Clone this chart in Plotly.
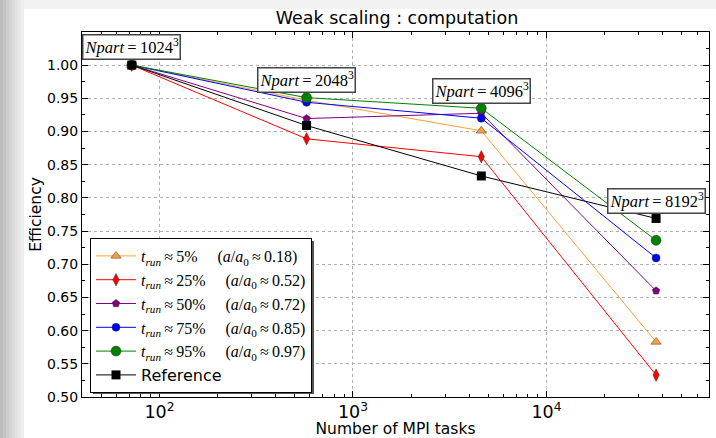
import math
import plotly.graph_objects as go

# MPI task counts for each weak-scaling step
tasks = [72, 576, 4608, 36864]
npart_labels = ["1024", "2048", "4096", "8192"]
npart_y = [1.027, 0.977, 0.961, 0.796]

eff_5 = [1.0, 0.947, 0.901, 0.583]
eff_25 = [1.0, 0.889, 0.862, 0.533]
eff_50 = [1.0, 0.9195, 0.9275, 0.660]
eff_75 = [1.0, 0.944, 0.920, 0.7095]
eff_95 = [1.0, 0.951, 0.935, 0.736]
eff_ref = [1.0, 0.909, 0.833, 0.769]

series = [
    ("5%", "0.18", eff_5, "#ffa033", "triangle-up", 9),
    ("25%", "0.52", eff_25, "#ff0000", "diamond-tall", 9),
    ("50%", "0.72", eff_50, "#800080", "pentagon", 8),
    ("75%", "0.85", eff_75, "#0000ff", "circle", 8),
    ("95%", "0.97", eff_95, "#007f00", "circle", 10),
]

SERIF = "Liberation Serif"
SANS = "DejaVu Sans"

fig = go.Figure()

for pct, ratio, vals, col, sym, sz in series:
    name = ("<i>t</i><sub><i>run</i></sub>\u2009\u2248\u2009" + pct +
            "&nbsp;&nbsp;&nbsp;&nbsp;&nbsp;(<i>a</i>/<i>a</i><sub>0</sub>\u2009\u2248\u2009" + ratio + ")")
    fig.add_trace(go.Scatter(
        x=tasks, y=vals, name=name, mode="lines+markers",
        line=dict(color=col, width=1),
        marker=dict(symbol=sym, size=sz, color=col, line=dict(color="#333333", width=0.5)),
    ))

fig.add_trace(go.Scatter(
    x=tasks, y=eff_ref, name="<span style='font-family:DejaVu Sans'>Reference</span>",
    mode="lines+markers", line=dict(color="black", width=1),
    marker=dict(symbol="square", size=9, color="black"),
))

# Npart boxes (annotation x on a log axis is given in log10 units)
for xv, yv, lab in zip(tasks, npart_y, npart_labels):
    fig.add_annotation(
        x=math.log10(xv), y=yv, xref="x", yref="y", showarrow=False,
        text="<i>Npart</i>\u2009=\u2009" + lab + "<sup>3</sup>",
        font=dict(family=SERIF, size=16.5, color="black"),
        bgcolor="white", bordercolor="#444444", borderwidth=1.5, borderpad=1,
    )

# page background: grey strips at left / top like the screenshot
shapes = []
W, H = 716, 438
ml, mr, mt, mb = 82, 7, 32, 41
pw, ph = W - ml - mr, H - mt - mb


def px_x(p):
    return (p - ml) / pw


def px_y(p):
    return 1 - (p - mt) / ph


greys = ["#bcbcbc", "#c4c4c4", "#cccccc", "#d4d4d4", "#dbdbdb", "#e2e2e2", "#e8e8e8", "#eeeeee"]
for i, g in enumerate(greys):
    shapes.append(dict(type="rect", xref="paper", yref="paper", layer="below",
                       x0=px_x(i * 3), x1=px_x(i * 3 + 3), y0=px_y(H), y1=px_y(0),
                       fillcolor=g, line=dict(width=0)))
shapes.append(dict(type="rect", xref="paper", yref="paper", layer="below",
                   x0=px_x(24), x1=px_x(W), y0=px_y(9), y1=px_y(0),
                   fillcolor="#f2f2f2", line=dict(width=0)))
# legend shadow
shapes.append(dict(type="rect", xref="paper", yref="paper", layer="above",
                   x0=px_x(93), x1=px_x(314), y0=px_y(394), y1=px_y(241),
                   fillcolor="#555555", line=dict(width=0)))

fig.update_layout(
    width=W, height=H,
    margin=dict(l=ml, r=mr, t=mt, b=mb, autoexpand=False),
    paper_bgcolor="white", plot_bgcolor="white",
    title=dict(text="Weak scaling : computation", x=397 / W, xanchor="center",
               y=1 - 18 / H, yanchor="middle",
               font=dict(family=SANS, size=17.5, color="black")),
    font=dict(family=SANS, size=14, color="black"),
    shapes=shapes,
    showlegend=True,
    legend=dict(
        x=px_x(90), y=px_y(238), xanchor="left", yanchor="top",
        bgcolor="white", bordercolor="black", borderwidth=1,
        font=dict(family=SERIF, size=16, color="black"),
        itemwidth=40, tracegroupgap=0,
    ),
)

fig.update_xaxes(
    type="log", range=[1.6, 4.84], dtick=1, exponentformat="power",
    showline=True, linecolor="black", linewidth=1, mirror="allticks",
    ticks="inside", ticklen=6, tickcolor="black", automargin=False,
    showgrid=True, gridcolor="#b0b0b0", griddash="dot", gridwidth=1,
    minor=dict(ticks="inside", ticklen=3, tickcolor="black", showgrid=False),
    tickfont=dict(family=SANS, size=14),
    title=dict(text="Number of MPI tasks", font=dict(family=SANS, size=15.5), standoff=2),
    zeroline=False,
)
fig.update_yaxes(
    range=[0.5, 1.0499], dtick=0.05, tickformat=".2f",
    showline=True, linecolor="black", linewidth=1, mirror="allticks",
    ticks="inside", ticklen=6, tickcolor="black", automargin=False,
    showgrid=True, gridcolor="#b0b0b0", griddash="dot", gridwidth=1,
    minor=dict(ticks="inside", ticklen=3, tickcolor="black", dtick=0.025, showgrid=False),
    tickfont=dict(family=SANS, size=14),
    title=dict(text="Efficiency", font=dict(family=SANS, size=15.5), standoff=1),
    zeroline=False,
)

# drop the default 8px page margin so the figure fills the window
fig.write_html("out.html", config={"displayModeBar": False},
               post_script="document.body.style.margin='0';")
